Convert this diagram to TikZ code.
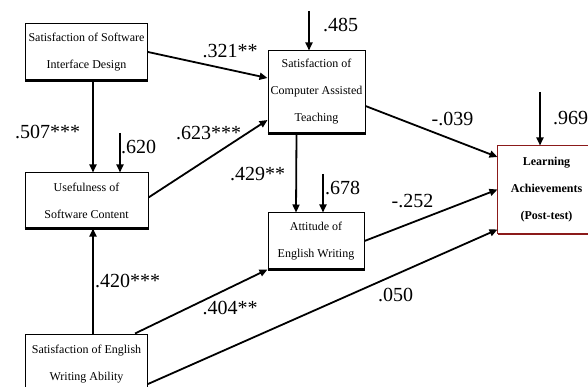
\documentclass[tikz,border=0pt]{standalone}
\usepackage{fontspec}
\setmainfont{Liberation Serif}
\usetikzlibrary{positioning,arrows.meta,calc}
\definecolor{BoxRed}{HTML}{8B1A1A}
\tikzset{
  every node/.style = {font=\rmfamily},
  vbox/.style       = {draw=black, line width=1pt, fill=white, align=center,
                       inner sep=0pt, font=\fontsize{12}{27}\selectfont},
  obox/.style       = {vbox, draw=none, font=\bfseries\fontsize{12}{27}\selectfont},
  pathline/.style   = {-{Triangle[length=8pt,width=7pt]}, line width=1.8pt},
  errline/.style    = {pathline},
  coef/.style       = {font=\fontsize{20}{22}\selectfont, inner sep=0pt},
}

\begin{document}
\begin{tikzpicture}[x=1pt, y=-1pt]
\useasboundingbox (0,0) rectangle (588,387);

% =========================================================================
% Variables (boxes)
% =========================================================================
\node[vbox, minimum width=122pt, minimum height=56pt] (sid) at (86.5, 52)
  {Satisfaction of Software\\Interface Design};
\node[vbox, minimum width=123pt, minimum height=55pt] (usc) at (86.5, 200.5)
  {Usefulness of\\Software Content};
\node[vbox, minimum width=97pt, minimum height=82pt]  (cat) at (316.5, 92)
  {Satisfaction of\\Computer Assisted\\Teaching};
\node[vbox, minimum width=96pt, minimum height=56pt]  (aew) at (316, 241)
  {Attitude of\\English Writing};
\node[obox, minimum width=97pt, minimum height=87pt]  (lea) at (546.5, 189.5)
  {Learning\\Achievements\\(Post-test)};
\node[vbox, minimum width=122pt, minimum height=60pt] (sew) at (86.5, 364)
  {Satisfaction of English\\Writing Ability};

% outcome box runs off the right edge: no right side
\draw[BoxRed, line width=1pt] ([xshift=20pt]lea.north east) -- (lea.north west)
  -- (lea.south west);
\draw[BoxRed, line width=2pt] (lea.south west) -- ([xshift=20pt]lea.south east);

% heavier bottom edges
\foreach \b in {sid,usc,cat,aew,sew}
  \draw[line width=2.2pt] (\b.south west) -- (\b.south east);

% =========================================================================
% Error terms (free ends)
% =========================================================================
\coordinate (e1) at (120, 133);
\coordinate (e2) at (309, 11);
\coordinate (e3) at (323, 174);
\coordinate (e4) at (540, 92);

% =========================================================================
% Paths
% =========================================================================
\draw[pathline] (sid.east) -- ([yshift=14pt]cat.west);
\draw[pathline] ([xshift=6.5pt]sid.south) -- ([xshift=6.5pt]usc.north);
\draw[pathline] ([yshift=3pt]usc.east) -- ([yshift=-28pt]cat.west);
\draw[pathline] ([xshift=-20pt]cat.south) -- ([xshift=-20pt]aew.north);
\draw[pathline] ([yshift=-14pt]cat.east) -- ([yshift=32.5pt]lea.west);
\draw[pathline] (aew.east) -- (lea.west);
\draw[pathline] ([xshift=6.5pt]sew.north) -- ([xshift=6.5pt]usc.south);
\draw[pathline] ([xshift=48.5pt]sew.north) -- (aew.south west);
\draw[pathline] ([yshift=-20pt]sew.east) -- ([yshift=4pt]lea.south west);

\draw[errline] (e1) -- ([xshift=33.5pt]usc.north);
\draw[errline] (e2) -- ([xshift=-7.5pt]cat.north);
\draw[errline] (e3) -- ([xshift=7pt]aew.north);
\draw[errline] (e4) -- ([xshift=-6.5pt]lea.north);

% =========================================================================
% Coefficients
% =========================================================================
\node[coef] (c321) at (230, 51)    {.321**};
\node[coef] (c507) at (47.5, 131.5) {.507***};
\node[coef, anchor=west] (c620) at (121, 147) {.620};
\node[coef] (c623) at (208.5, 133.5) {.623***};
\node[coef] (c429) at (257.5, 174)  {.429**};
\node[coef] (c485) at (340.5, 24.5) {.485};
\node[coef] (c039) at (452.5, 118.5) {-.039};
\node[coef] (c969) at (570.5, 118.5) {.969};
\node[coef] (c678) at (342.5, 187.5) {.678};
\node[coef] (c252) at (412.5, 201.5) {-.252};
\node[coef] (c420) at (127.5, 280.5) {.420***};
\node[coef] (c404) at (230, 307.5)  {.404**};
\node[coef] (c050) at (395.5, 294.5) {.050};

\end{tikzpicture}
\end{document}
